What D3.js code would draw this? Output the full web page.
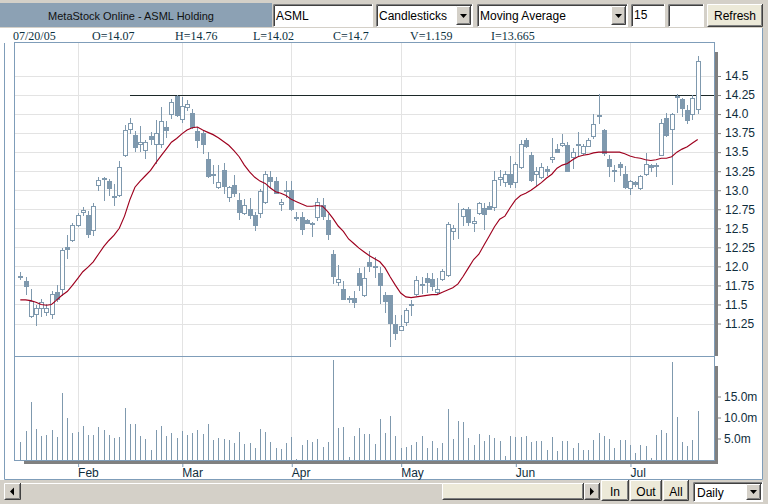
<!DOCTYPE html>
<html><head><meta charset="utf-8">
<script src="https://cdn.jsdelivr.net/npm/d3@7"></script>
<style>
html,body{margin:0;padding:0;background:#d4d0c8;}
svg{display:block;}
text{font-family:"Liberation Sans",Arial,sans-serif;}
</style></head>
<body>
<svg id="c" width="768" height="504"></svg>
<script>
// ---------------- DATA ----------------
const open = [11.87,11.81,11.355,11.373,11.452,11.399,11.373,11.662,11.702,12.254,12.351,12.544,12.715,12.68,12.474,13.07,13.162,13.127,12.93,12.934,
13.465,13.807,13.719,13.61,13.531,13.706,13.61,13.61,13.825,13.996,14.232,13.931,14.097,14.01,13.776,13.75,13.408,13.215,13.04,13.268,
12.917,13.07,12.873,12.706,12.759,12.675,12.706,12.851,13.171,13.123,12.816,13.004,13.004,12.645,12.649,12.61,12.566,12.654,12.807,12.61,
12.162,11.798,11.697,11.583,11.579,11.912,11.618,12.057,12.004,11.908,11.618,11.623,11.237,11.171,11.276,11.504,11.64,11.754,11.842,11.833,
11.658,11.829,11.882,12.465,12.539,12.667,12.75,12.566,12.697,12.772,12.789,12.776,13.145,13.114,13.211,13.114,13.303,13.662,13.465,13.211,
13.171,13.285,13.412,13.544,13.592,13.592,13.439,13.596,13.491,13.583,13.715,13.974,13.785,13.412,13.272,13.351,13.215,13.031,13.114,13.031,
13.215,13.329,13.32,13.469,13.952,13.807,14.23,14.193,14.048,14.004,14.07];
const high = [11.92,11.86,11.706,11.497,11.57,11.504,11.671,11.759,12.241,12.408,12.57,12.702,12.785,12.724,12.833,13.18,13.18,13.154,13.083,13.39,
13.855,13.943,13.776,13.846,13.662,13.763,13.917,14.092,13.908,14.193,14.25,14.22,14.185,14.063,13.829,13.794,13.5,13.333,13.333,13.355,
13.057,13.202,12.961,12.89,12.895,12.719,13.013,13.254,13.254,13.171,12.882,13.123,13.127,12.715,12.715,12.627,12.588,12.904,12.904,12.689,
12.215,12.018,11.807,11.61,11.675,11.974,11.996,12.206,12.127,11.996,11.667,11.63,11.36,11.36,11.447,11.553,11.873,11.864,11.908,11.908,
11.842,11.961,12.583,12.544,12.829,12.772,12.785,12.645,12.842,12.829,12.846,13.259,13.268,13.246,13.443,13.377,13.662,13.684,13.496,13.303,
13.36,13.316,13.68,13.601,13.741,13.636,13.548,13.768,13.61,13.689,14.004,14.259,13.798,13.469,13.329,13.373,13.316,13.14,13.127,13.197,
13.491,13.338,13.36,13.93,14.018,14.018,14.26,14.215,14.114,14.25,14.76];
const low = [11.83,11.64,11.329,11.225,11.355,11.362,11.316,11.55,11.618,12.11,12.329,12.526,12.68,12.382,12.408,13.004,12.868,12.943,12.803,12.921,
13.452,13.75,13.513,13.513,13.417,13.61,13.355,13.566,13.697,13.952,13.969,13.9,14.05,13.817,13.566,13.487,13.171,13.092,13.031,12.961,
12.864,12.925,12.618,12.689,12.632,12.478,12.654,12.838,13.048,12.961,12.741,12.917,12.741,12.61,12.425,12.566,12.404,12.61,12.618,12.364,
11.785,11.754,11.566,11.535,11.469,11.689,11.61,11.939,11.864,11.522,11.395,10.956,11.053,11.162,11.228,11.36,11.623,11.645,11.667,11.689,
11.632,11.82,11.873,12.36,12.368,12.544,12.544,12.469,12.689,12.487,12.75,12.741,13.066,13.057,13.039,13.039,13.289,13.566,13.123,13.07,
13.162,13.206,13.373,13.496,13.583,13.25,13.294,13.447,13.478,13.575,13.689,13.88,13.469,13.184,13.118,13.206,13.031,12.952,13.053,13.022,
13.206,13.25,13.184,13.46,13.711,13.083,14.03,13.974,13.886,13.93,14.02];
const close = [11.865,11.74,11.548,11.452,11.526,11.452,11.636,11.57,12.219,12.228,12.548,12.68,12.741,12.425,12.798,13.136,13.145,13.031,12.912,13.311,
13.785,13.886,13.566,13.636,13.636,13.675,13.754,13.912,13.794,14.162,13.982,14.106,14.128,13.834,13.654,13.61,13.189,13.205,13.105,13.061,
13.04,12.969,12.719,12.803,12.675,12.544,12.991,13.211,13.127,12.969,12.842,12.996,12.75,12.636,12.496,12.575,12.561,12.846,12.662,12.425,
11.873,11.829,11.575,11.575,11.535,11.759,11.842,12.004,11.996,11.759,11.544,11.263,11.127,11.211,11.421,11.487,11.816,11.772,11.798,11.746,
11.702,11.934,12.553,12.5,12.548,12.75,12.588,12.592,12.829,12.684,12.759,13.136,13.18,13.211,13.083,13.346,13.605,13.575,13.136,13.246,
13.311,13.259,13.439,13.504,13.614,13.259,13.504,13.605,13.583,13.662,13.873,13.982,13.491,13.316,13.259,13.307,13.039,13.118,13.083,13.184,
13.338,13.307,13.325,13.886,13.724,14.004,14.24,14.083,13.917,14.215,14.70];
// volume in millions
const volume = [4.1,6.8,13.8,7.3,5.7,5.8,7.0,5.4,15.9,10.0,6.3,6.5,8.0,5.8,5.8,7.7,7.0,5.8,5.1,5.4,
12.3,8.5,8.5,5.7,4.9,2.2,7.0,8.0,5.6,6.3,5.1,6.8,5.8,6.3,7.0,6.0,8.5,4.6,5.1,4.9,
4.6,3.9,6.5,3.6,3.9,2.7,7.3,6.5,4.1,2.7,2.5,3.9,5.3,0.1,3.4,4.6,4.1,4.9,2.9,4.1,
23.6,7.5,7.7,0.5,5.6,7.5,6.0,6.0,3.6,9.7,6.3,10.4,5.6,2.7,2.9,3.4,4.1,5.6,2.7,4.4,
2.7,3.9,12.1,4.9,9.2,8.9,5.1,3.4,6.0,4.4,5.8,5.1,4.4,0.8,5.6,5.3,5.3,5.6,4.1,4.4,
4.4,2.2,5.3,2.0,4.4,4.4,2.7,3.9,2.2,2.2,4.6,6.3,5.6,4.9,2.7,4.6,4.6,3.4,1.5,3.4,
3.1,0.3,5.8,7.0,6.3,23.1,10.1,4.1,3.1,4.6,11.6];
// 15-day moving average
const movingAvg = [11.56,11.56,11.55,11.53,11.50,11.49,11.50,11.56,11.62,11.67,11.75,11.84,11.93,11.99,12.06,12.16,12.26,12.34,12.41,12.50,
12.66,12.87,13.04,13.12,13.19,13.26,13.36,13.45,13.54,13.63,13.68,13.74,13.79,13.82,13.83,13.79,13.76,13.73,13.69,13.64,
13.59,13.52,13.44,13.33,13.24,13.17,13.12,13.09,13.03,12.98,12.96,12.93,12.88,12.85,12.82,12.79,12.79,12.80,12.79,12.72,
12.63,12.53,12.46,12.36,12.30,12.24,12.19,12.14,12.10,12.06,11.98,11.86,11.75,11.65,11.60,11.59,11.60,11.61,11.62,11.63,
11.63,11.66,11.69,11.72,11.77,11.87,11.98,12.09,12.16,12.28,12.40,12.52,12.62,12.66,12.77,12.87,12.93,12.96,13.00,13.05,
13.10,13.16,13.21,13.29,13.33,13.35,13.40,13.44,13.46,13.47,13.49,13.50,13.50,13.50,13.50,13.50,13.48,13.45,13.43,13.42,
13.40,13.39,13.40,13.42,13.42,13.44,13.50,13.54,13.57,13.62,13.665];
const monthStartIdx = [11,31,52,73,95,117];
const monthLabels = ["Feb","Mar","Apr","May","Jun","Jul"];
const priceTicks = [11.25,11.5,11.75,12.0,12.25,12.5,12.75,13.0,13.25,13.5,13.75,14.0,14.25,14.5];
const priceTickLabels = ["11.25","11.5","11.75","12.0","12.25","12.5","12.75","13.0","13.25","13.5","13.75","14.0","14.25","14.5"];
const volTicks = [5,10,15];
const volTickLabels = ["5.0m","10.0m","15.0m"];
const trendLevel = 14.25, trendStartIdx = 21.05;
const infoLabels = ["07/20/05","O=14.07","H=14.76","L=14.02","C=14.7","V=1.159","I=13.665"];
const infoX = [13,92,175,253,333,410,491];

// ---------------- SCALES ----------------
const svg = d3.select("#c");
const x = d3.scaleLinear().domain([0,130]).range([20.3,697.7]);
const y = d3.scaleLinear().domain([11.25,14.5]).range([323.5,76]);
const yv = d3.scaleLinear().domain([0,15]).range([459.5,396.5]);

const FRAME="#7f9db9", CAND="#7f99ae", GRID="#e3e3e3", SHADOW="#808080", TXT="#0f2d3c";

// ---------------- TOOLBAR ----------------
svg.append("rect").attr("x",0).attr("y",0).attr("width",768).attr("height",504).attr("fill","#d4d0c8");
svg.append("rect").attr("x",0).attr("y",3).attr("width",272).attr("height",24).attr("fill","#8ca1b4");
svg.append("text").attr("x",131).attr("y",20).attr("text-anchor","middle").attr("font-size","11px").attr("fill","#111").text("MetaStock Online - ASML Holding");

function sunken(x0,y0,w,h,fill){
  svg.append("rect").attr("x",x0).attr("y",y0).attr("width",w).attr("height",h).attr("fill",fill||"#fff");
  svg.append("path").attr("d",`M${x0+0.5},${y0+h}V${y0+0.5}H${x0+w}`).attr("stroke","#808080").attr("fill","none");
  svg.append("path").attr("d",`M${x0+1.5},${y0+h-1}V${y0+1.5}H${x0+w-1}`).attr("stroke","#404040").attr("fill","none");
  svg.append("path").attr("d",`M${x0+0.5},${y0+h-0.5}H${x0+w-0.5}V${y0}`).attr("stroke","#fff").attr("fill","none");
}
function raised(x0,y0,w,h,fill){
  svg.append("rect").attr("x",x0).attr("y",y0).attr("width",w).attr("height",h).attr("fill",fill||"#d4d0c8");
  svg.append("path").attr("d",`M${x0+0.5},${y0+h}V${y0+0.5}H${x0+w}`).attr("stroke","#fff").attr("fill","none");
  svg.append("path").attr("d",`M${x0+0.5},${y0+h-0.5}H${x0+w-0.5}V${y0}`).attr("stroke","#404040").attr("fill","none");
  svg.append("path").attr("d",`M${x0+1.5},${y0+h-1.5}H${x0+w-1.5}V${y0+1}`).attr("stroke","#808080").attr("fill","none");
}
function arrowDown(cx,cy){
  svg.append("path").attr("d",`M${cx-3.5},${cy-2}h7l-3.5,4z`).attr("fill","#000");
}
sunken(273,4,100,23); svg.append("text").attr("x",276).attr("y",20).attr("font-size","12px").attr("fill","#000").text("ASML");
sunken(376,4,97,23); svg.append("text").attr("x",379).attr("y",20).attr("font-size","12px").attr("fill","#000").text("Candlesticks");
raised(456,6,15,19); arrowDown(463.5,16);
sunken(477,4,151,23); svg.append("text").attr("x",480).attr("y",20).attr("font-size","12px").attr("fill","#000").text("Moving Average");
raised(611,6,15,19); arrowDown(618.5,16);
sunken(631,4,34,23); svg.append("text").attr("x",634).attr("y",19).attr("font-size","12px").attr("fill","#000").text("15");
sunken(668,4,36,23);
raised(707,4,56,23,"#ece9d8"); svg.append("text").attr("x",735).attr("y",20).attr("text-anchor","middle").attr("font-size","12px").attr("fill","#000").text("Refresh");

// ---------------- PANEL BACKGROUND ----------------
svg.append("rect").attr("x",0).attr("y",28).attr("width",763).attr("height",452).attr("fill","#fff");
svg.append("path").attr("d","M4.5,43V479.5H762.5V28").attr("stroke",FRAME).attr("fill","none");

svg.selectAll("text.info").data(infoLabels).join("text").attr("class","info")
  .attr("x",(d,i)=>infoX[i]).attr("y",40).attr("font-size","12px").attr("fill","#0b3040")
  .style("font-family","'Liberation Serif','Times New Roman',serif").text(d=>d);

// ---------------- GRID ----------------
const g = svg.append("g");
g.selectAll("line.hg").data(priceTicks).join("line").attr("class","hg")
  .attr("x1",15).attr("x2",714).attr("y1",d=>Math.round(y(d))+0.5).attr("y2",d=>Math.round(y(d))+0.5)
  .attr("stroke",GRID);
g.selectAll("line.vg").data(monthStartIdx).join("line").attr("class","vg")
  .attr("x1",d=>Math.round(x(d))+0.5).attr("x2",d=>Math.round(x(d))+0.5).attr("y1",43).attr("y2",460)
  .attr("stroke",GRID);

// ---------------- TREND LINE ----------------
g.append("line").attr("x1",Math.round(x(trendStartIdx))).attr("x2",714)
  .attr("y1",Math.round(y(trendLevel))+0.5).attr("y2",Math.round(y(trendLevel))+0.5)
  .attr("stroke","#1c2828");

// ---------------- CANDLES ----------------
const idx = d3.range(open.length);
const cg = g.append("g").attr("shape-rendering","crispEdges");
idx.forEach(i=>{
  const cx = Math.round(x(i));
  cg.append("line").attr("x1",cx+0.5).attr("x2",cx+0.5)
    .attr("y1",Math.round(y(high[i]))).attr("y2",Math.round(y(low[i]))+1).attr("stroke",CAND);
  const yo = Math.round(y(open[i])), yc = Math.round(y(close[i]));
  const top = Math.min(yo,yc), bot = Math.max(yo,yc);
  if (close[i] >= open[i]) {
    cg.append("rect").attr("x",cx-1.5).attr("y",top+0.5).attr("width",4).attr("height",Math.max(0,bot-top))
      .attr("fill","#fff").attr("stroke",CAND);
  } else {
    cg.append("rect").attr("x",cx-2).attr("y",top).attr("width",5).attr("height",Math.max(1,bot-top+1))
      .attr("fill",CAND);
  }
});

// ---------------- MOVING AVERAGE ----------------
g.append("path").datum(idx)
  .attr("d",d3.line().x(i=>x(i)).y(i=>y(movingAvg[i])))
  .attr("fill","none").attr("stroke","#9e001e").attr("stroke-width",1.15);

// ---------------- VOLUME ----------------
g.append("g").attr("shape-rendering","crispEdges").selectAll("line").data(idx).join("line")
  .attr("x1",i=>Math.round(x(i))+0.5).attr("x2",i=>Math.round(x(i))+0.5)
  .attr("y1",460).attr("y2",i=>Math.round(yv(volume[i])))
  .attr("stroke",CAND);

// ---------------- FRAMES & SHADOWS ----------------
svg.append("rect").attr("x",14.5).attr("y",42.5).attr("width",700).attr("height",314).attr("fill","none").attr("stroke",FRAME);
svg.append("rect").attr("x",14.5).attr("y",356.5).attr("width",700).attr("height",104).attr("fill","none").attr("stroke",FRAME);
svg.append("rect").attr("x",715).attr("y",52).attr("width",3).attr("height",304).attr("fill",SHADOW);
svg.append("rect").attr("x",715).attr("y",366).attr("width",3).attr("height",98).attr("fill",SHADOW);
svg.append("rect").attr("x",24).attr("y",461).attr("width",694).attr("height",3).attr("fill",SHADOW);

// ---------------- AXES ----------------
const ay = svg.append("g").attr("transform","translate(718,0)")
  .call(d3.axisRight(y).tickValues(priceTicks).tickFormat((d,i)=>priceTickLabels[i]).tickSize(3).tickPadding(4));
ay.select(".domain").remove();
ay.selectAll(".tick line").attr("stroke",SHADOW);
ay.selectAll(".tick text").attr("font-size","12px").attr("fill",TXT).style("font-family","'Liberation Sans',Arial,sans-serif");

const av = svg.append("g").attr("transform","translate(718,0)")
  .call(d3.axisRight(yv).tickValues(volTicks).tickFormat((d,i)=>volTickLabels[i]).tickSize(3).tickPadding(3));
av.select(".domain").remove();
av.selectAll(".tick line").attr("stroke",SHADOW);
av.selectAll(".tick text").attr("font-size","12px").attr("fill",TXT).style("font-family","'Liberation Sans',Arial,sans-serif");

const ax = svg.append("g").attr("transform","translate(0,464)")
  .call(d3.axisBottom(x).tickValues(monthStartIdx).tickFormat((d,i)=>monthLabels[i]).tickSize(3).tickPadding(1));
ax.select(".domain").remove();
ax.selectAll(".tick line").attr("stroke",FRAME).attr("transform","translate(0.5,0)");
ax.selectAll(".tick text").attr("font-size","12px").attr("fill",TXT).attr("text-anchor","start").attr("dx",0)
  .style("font-family","'Liberation Sans',Arial,sans-serif");

// ---------------- BOTTOM BAR ----------------
svg.append("rect").attr("x",4).attr("y",483).attr("width",596).attr("height",17).attr("fill","#d4d0c8");
svg.append("line").attr("x1",21).attr("x2",584).attr("y1",483.5).attr("y2",483.5).attr("stroke","#fff");
raised(4,483,17,17); svg.append("path").attr("d","M10,491.5l4,-4v8z").attr("fill","#000");
raised(442,483,142,17,"#ece9d8");
raised(584,483,16,17); svg.append("path").attr("d","M590,487.5l4,4l-4,4z").attr("fill","#000");
raised(601,480,28,21,"#ece9d8"); svg.append("text").attr("x",615).attr("y",496).attr("text-anchor","middle").attr("font-size","12px").attr("fill","#000").text("In");
raised(630,480,32,21,"#ece9d8"); svg.append("text").attr("x",646).attr("y",496).attr("text-anchor","middle").attr("font-size","12px").attr("fill","#000").text("Out");
raised(663,480,26,21,"#ece9d8"); svg.append("text").attr("x",676).attr("y",496).attr("text-anchor","middle").attr("font-size","12px").attr("fill","#000").text("All");
sunken(693,482,70,20); svg.append("text").attr("x",697).attr("y",497).attr("font-size","12px").attr("fill","#000").text("Daily");
raised(746,484,15,16); arrowDown(753.5,492);
</script>
</body></html>
